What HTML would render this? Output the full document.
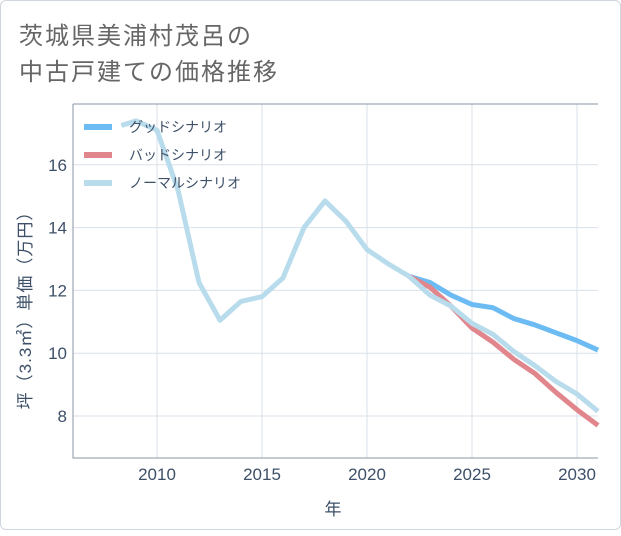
<!DOCTYPE html>
<html><head><meta charset="utf-8"><style>
body{margin:0;background:#fff;}
#card{position:absolute;left:0;top:0;width:619px;height:528px;border:1px solid #cfd6de;border-radius:6px;background:#fff;}
svg text{font-family:"Liberation Sans","Noto Sans CJK JP",sans-serif;}
</style></head><body>
<div id="card">
<svg id="chart" width="621" height="530"></svg>
</div>
<script>
const years=[2008.3,2009,2010,2011,2012,2013,2014,2015,2016,2017,2018,2019,2020,2021,2022,2023,2024,2025,2026,2027,2028,2029,2030,2031];
const normal=[17.25,17.4,17.1,15.2,12.25,11.05,11.65,11.8,12.4,14.0,14.85,14.2,13.3,12.85,12.45,11.85,11.5,10.95,10.6,10.05,9.6,9.1,8.7,8.15];
const goodYears=[2022,2023,2024,2025,2026,2027,2028,2029,2030,2031];
const good=[12.45,12.25,11.85,11.55,11.45,11.1,10.9,10.65,10.4,10.1];
const badYears=[2022,2023,2024,2025,2026,2027,2028,2029,2030,2031];
const bad=[12.45,12.1,11.5,10.8,10.35,9.8,9.35,8.75,8.2,7.7];
const xTicks=[2010,2015,2020,2025,2030];
const yTicks=[8,10,12,14,16];
const L=72,R=597,T=103,B=457;
const x=v=>L+(v-2006)*(R-L)/25;
const y=v=>415-(v-8)*31.4;
const NS='http://www.w3.org/2000/svg';
const svg=document.getElementById('chart');
function mk(t,a,p){const e=document.createElementNS(NS,t);for(const k in a)e.setAttribute(k,a[k]);(p||svg).appendChild(e);return e;}
let e;
e=mk('text',{x:18,y:43,'font-size':24,'letter-spacing':2,fill:'#666'});e.textContent='茨城県美浦村茂呂の';


e=mk('text',{x:18,y:79,'font-size':24,'letter-spacing':2,fill:'#666'});e.textContent='中古戸建ての価格推移';


xTicks.forEach(t=>{
 e=mk('line',{x1:x(t),x2:x(t),y1:T,y2:B,stroke:'#d8e0e8'});
 
 
 e=mk('text',{x:x(t),y:479,'font-size':17,fill:'#3d5068','text-anchor':'middle'});e.textContent=t;
 
 
});
yTicks.forEach(t=>{
 e=mk('line',{x1:L,x2:R,y1:y(t),y2:y(t),stroke:'#d8e0e8'});
 
 
 e=mk('text',{x:66,y:y(t)+6,'font-size':17,fill:'#3d5068','text-anchor':'end'});e.textContent=t;
 
 
});
e=mk('path',{d:`M${L},${T}H${R}M${L},${T}V${B}H${R}`,stroke:'#8a96a3',fill:'none'});


function line(xs,vs,c,n){const d=xs.map((v,i)=>(i?'L':'M')+x(v)+','+y(vs[i])).join('');
 const p=mk('path',{d,stroke:c,'stroke-width':5,fill:'none','stroke-linejoin':'round'});
 
 }
line(goodYears,good,'#6cbcf3','good-scenario-line');
line(badYears,bad,'#e0868c','bad-scenario-line');
line(years,normal,'#b9dcec','normal-scenario-line');
[['グッドシナリオ','#6cbcf3'],['バッドシナリオ','#e0868c'],['ノーマルシナリオ','#b9dcec']].forEach((l,i)=>{
 const g=mk('g',{});
 
 
 mk('line',{x1:83,x2:111,y1:126+i*28,y2:126+i*28,stroke:l[1],'stroke-width':6},g);
 const t=mk('text',{x:128,y:131+i*28,'font-size':14,fill:'#3d5068'},g);t.textContent=l[0];
});
e=mk('text',{x:332,y:514,'font-size':17,fill:'#3d5068','text-anchor':'middle'});e.textContent='年';


e=mk('text',{x:0,y:0,'font-size':17,'letter-spacing':1,fill:'#3d5068','text-anchor':'middle',transform:'translate(30,305) rotate(-90)'});e.textContent='坪（3.3㎡）単価（万円）';


</script>
</body></html>
